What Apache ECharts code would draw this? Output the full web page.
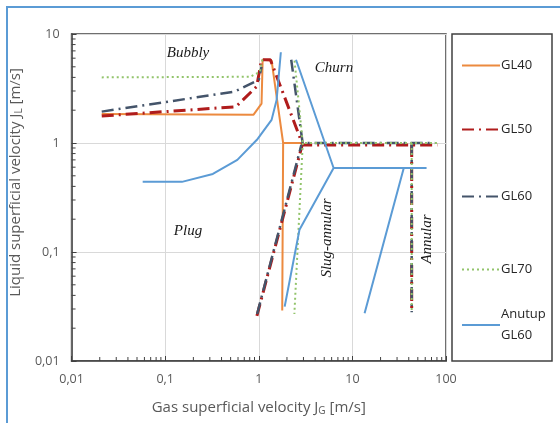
<!DOCTYPE html>
<html><head><meta charset="utf-8">
<script src="https://cdn.jsdelivr.net/npm/echarts@6/dist/echarts.min.js"></script>
<style>html,body{margin:0;padding:0;background:#fff}#c{width:560px;height:423px}</style>
</head><body><div id="c"></div>
<script>
const xTickLabels = ['0,01', '0,1', '1', '10', '100'];
const yTickLabels = ['0,01', '0,1', '1', '10'];
const seriesNames = ['GL40', 'GL50', 'GL60', 'GL70', 'Anutup GL60'];
const G = ['-', '-']; // break in a line

const gl40 = [[0.021,1.85],[0.88,1.82],[1.07,2.3],[1.1,5.8],[1.37,5.7],[1.82,1.0],[2.95,1.0],G,
              [1.82,1.0],[1.78,0.029]];
const gl50 = [[0.021,1.77],[0.57,2.15],[0.95,3.3],[1.07,5.8],[1.33,5.8],[2.95,0.96],[81,0.96],G,
              [0.955,0.026],[2.9,0.95],G,[43,0.96],[43,0.028]];
const gl60 = [[0.021,1.94],[0.55,2.96],[1.0,3.8],[1.07,5.0],G,
              [2.22,5.8],[2.94,1.0],[76,1.0],G,[0.96,0.027],[2.85,0.96],G,[43,1.0],[43,0.028]];
const gl70 = [[0.021,4.0],[0.81,4.05],[1.03,4.5],[1.1,6.0],G,
              [2.41,5.7],[2.95,1.0],[80,1.0],G,[2.95,1.0],[2.4,0.027],G,[43,1.0],[43,0.028]];
const anutup = [[0.0575,0.44],[0.151,0.44],[0.323,0.52],[0.59,0.70],[0.955,1.07],[1.37,1.63],[1.55,2.48],[1.72,6.8],G,
                [2.5,5.8],[6.3,0.59],[62,0.59],G,[6.3,0.59],[2.72,0.16],[1.89,0.0315],G,[35.4,0.59],[13.5,0.0274]];

const minorMantissas = [2,3,4,5,6,7,8,9];
const xDecades = [0.01,0.1,1,10];
const yDecades = [0.01,0.1,1];
const xMinor = [], yMinor = [];
xDecades.forEach(d => minorMantissas.forEach(m => xMinor.push([+(m*d).toPrecision(3), 0.01])));
yDecades.forEach(d => minorMantissas.forEach(m => yMinor.push([0.01, +(m*d).toPrecision(3)])));

const colors = ['#ec8a3f', '#b01c1c', '#44546a', '#92c46b', '#5b9bd5'];
const lineStyles = [
  {width: 2, type: 'solid'},
  {width: 3, type: [12, 5, 2, 5]},
  {width: 2.5, type: [12, 5, 2, 5]},
  {width: 2, type: [2, 3]},
  {width: 2, type: 'solid'}
];
const datas = [gl40, gl50, gl60, gl70, anutup];

const fontUI = '"Open Sans", "Noto Sans", sans-serif';
const grey = '#595959';

function label(arr) {
  return v => arr[Math.round(Math.log10(v)) + 2];
}

const lineSeries = datas.map((d, i) => ({
  name: seriesNames[i], type: 'line', data: d, showSymbol: false, symbol: 'none',
  connectNulls: false, color: colors[i], z: 3 + i,
  lineStyle: Object.assign({color: colors[i], cap: 'butt'}, lineStyles[i]),
  emphasis: {disabled: true}, animation: false
}));

function tickRender(dir) {
  return (p, api) => {
    const pt = api.coord([api.value(0), api.value(1)]);
    const shape = dir === 'x' ? {x1: pt[0], y1: pt[1], x2: pt[0], y2: pt[1] - 4}
                              : {x1: pt[0], y1: pt[1], x2: pt[0] + 4, y2: pt[1]};
    return {type: 'line', shape, style: {stroke: '#404040', lineWidth: 1}};
  };
}

const legendTops = [57, 121, 188, 261, 306];
const legends = seriesNames.map((n, i) => ({
  data: [n], orient: 'vertical', left: 456, top: legendTops[i] - 7,
  itemWidth: 38, itemHeight: 14, itemGap: 0, selectedMode: false,
  itemStyle: {opacity: 0},
  textStyle: {fontFamily: fontUI, fontSize: 13, color: '#262626', lineHeight: 21, padding: [0,0,0,-4]},
  formatter: name => name.replace(' ', '\n')
}));

const serifItalic = {fontFamily: '"Liberation Serif", "DejaVu Serif", serif', fontStyle: 'italic', fontSize: 15, fill: '#1a1a1a'};
const subRich = {s: {fontFamily: fontUI, fontSize: 10, color: grey, verticalAlign: 'bottom', padding: [7,0,0,0]}};

const option = {
  animation: false,
  backgroundColor: '#fff',
  legend: legends,
  grid: {left: 64, top: 34, right: 114, bottom: 62, show: true, borderColor: '#404040', borderWidth: 1.5},
  xAxis: {
    type: 'log', logBase: 10, min: 0.01, max: 100,
    name: 'Gas superficial velocity J{s|G} [m/s]', nameLocation: 'middle', nameGap: 38,
    nameTextStyle: {fontFamily: fontUI, fontSize: 15, color: grey, rich: subRich},
    axisLine: {show: true, lineStyle: {color: '#404040', width: 1.5}},
    axisTick: {show: true, inside: true, length: 5, lineStyle: {color: '#404040'}},
    axisLabel: {formatter: label(xTickLabels), fontFamily: fontUI, fontSize: 12.5, color: grey, margin: 12},
    splitLine: {show: true, lineStyle: {color: '#d9d9d9', width: 1}}
  },
  yAxis: {
    type: 'log', logBase: 10, min: 0.01, max: 10,
    name: 'Liquid superficial velocity J{s|L} [m/s]', nameLocation: 'middle', nameGap: 30,
    nameTextStyle: {fontFamily: fontUI, fontSize: 15, color: grey, rich: subRich, padding: [0, 0, 0, 30]},
    axisLine: {show: true, lineStyle: {color: '#404040', width: 1.5}},
    axisTick: {show: true, inside: true, length: 5, lineStyle: {color: '#404040'}},
    axisLabel: {formatter: label(yTickLabels), fontFamily: fontUI, fontSize: 12.5, color: grey, margin: 12},
    splitLine: {show: true, lineStyle: {color: '#d9d9d9', width: 1}}
  },
  series: lineSeries.concat([
    {type: 'custom', silent: true, clip: false, data: xMinor, renderItem: tickRender('x'), z: 10},
    {type: 'custom', silent: true, clip: false, data: yMinor, renderItem: tickRender('y'), z: 10}
  ]),
  graphic: [
    {type: 'rect', shape: {x: 7, y: 7, width: 600, height: 500}, style: {fill: 'none', stroke: '#5b9bd5', lineWidth: 2}, silent: true, z: -1},
    {type: 'rect', shape: {x: 452, y: 34, width: 100, height: 327}, style: {fill: 'none', stroke: '#404040', lineWidth: 1.5}, silent: true},
    {type: 'text', z: 100, x: 188, y: 53, style: Object.assign({text: 'Bubbly', textAlign: 'center', textVerticalAlign: 'middle'}, serifItalic)},
    {type: 'text', z: 100, x: 334, y: 68, style: Object.assign({text: 'Churn', textAlign: 'center', textVerticalAlign: 'middle'}, serifItalic)},
    {type: 'text', z: 100, x: 188, y: 231, style: Object.assign({text: 'Plug', textAlign: 'center', textVerticalAlign: 'middle'}, serifItalic)},
    {type: 'text', z: 100, x: 327, y: 238, rotation: Math.PI / 2, style: Object.assign({text: 'Slug-annular', textAlign: 'center', textVerticalAlign: 'middle'}, serifItalic)},
    {type: 'text', z: 100, x: 427, y: 239, rotation: Math.PI / 2, style: Object.assign({text: 'Annular', textAlign: 'center', textVerticalAlign: 'middle'}, serifItalic)}
  ]
};

const chart = echarts.init(document.getElementById('c'), null, {renderer: 'canvas'});
chart.setOption(option);
</script>
</body></html>
